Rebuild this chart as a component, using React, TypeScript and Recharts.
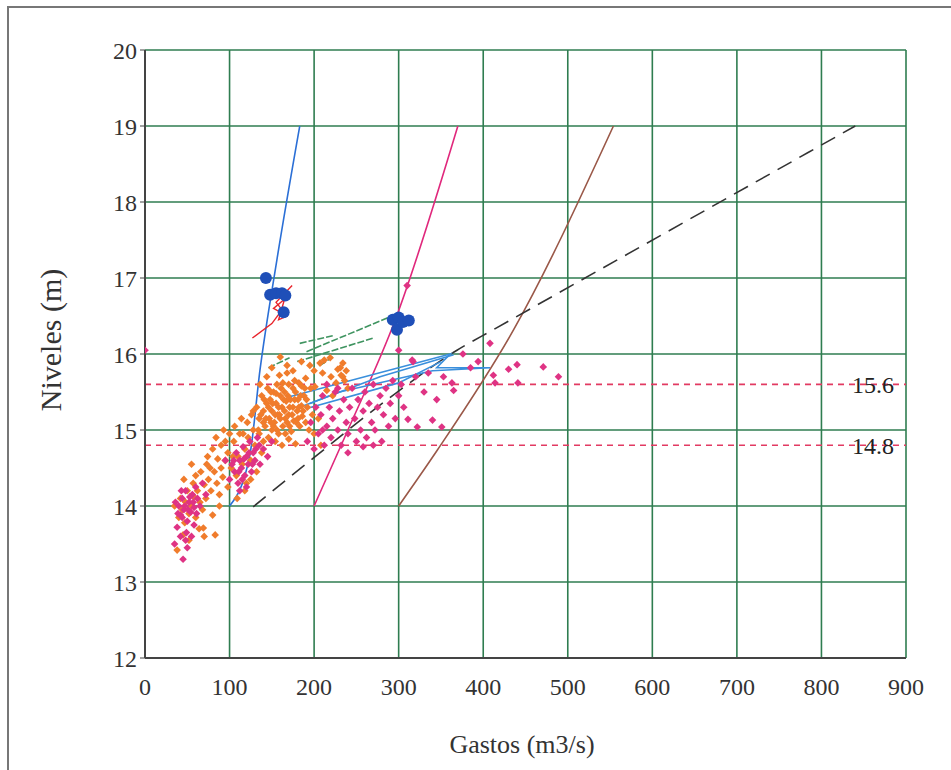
import React from 'react';
import {
  ComposedChart,
  Scatter,
  Line,
  XAxis,
  YAxis,
  CartesianGrid,
  ReferenceLine,
} from 'recharts';

const xTicks = [0, 100, 200, 300, 400, 500, 600, 700, 800, 900];
const yTicks = [12, 13, 14, 15, 16, 17, 18, 19, 20];

// orange scatter (gastos, nivel)
const orangePts: [number, number][] = [
  [38, 13.42], [45, 13.62], [52, 13.55], [40, 13.85], [44, 13.95], [48, 14.05], [52, 13.9], [55, 14.0],
  [58, 14.12], [60, 13.85], [62, 14.2], [65, 14.05], [68, 13.95], [70, 14.28], [72, 14.1], [75, 14.35],
  [78, 14.2], [80, 13.88], [82, 14.45], [85, 14.3], [88, 14.15], [90, 14.5], [92, 14.38], [95, 14.6],
  [50, 14.2], [42, 14.1], [57, 14.3], [66, 14.45], [73, 14.55], [86, 14.62], [64, 13.7], [70, 13.6],
  [35, 14.0], [47, 13.78], [83, 13.62], [69, 13.71],
  [60, 14.4], [77, 14.5], [88, 14.0], [98, 14.25], [104, 14.65], [116, 14.95], [121, 15.1], [84, 14.9],
  [93, 15.0], [74, 14.65], [55, 14.55], [46, 14.35],
  [98, 14.7], [102, 14.5], [105, 14.85], [108, 14.4], [110, 14.65], [112, 14.95], [115, 14.55], [118, 14.75],
  [120, 14.3], [122, 14.9], [125, 14.6], [128, 15.0], [130, 14.8], [132, 14.45], [135, 14.95], [138, 14.7],
  [140, 15.1], [100, 14.95], [106, 15.05], [95, 14.85], [114, 15.15], [126, 15.2], [118, 14.2], [109, 14.1],
  [125, 14.35], [80, 14.75], [90, 14.8],
  [132, 15.3], [135, 15.15], [138, 15.45], [140, 15.25], [142, 15.05], [144, 15.35], [145, 15.55], [147, 15.15],
  [148, 15.4], [150, 15.0], [150, 15.25], [152, 15.5], [153, 15.1], [155, 15.35], [156, 15.6], [157, 15.2],
  [158, 14.95], [160, 15.45], [160, 15.15], [162, 15.3], [163, 15.05], [165, 15.5], [165, 15.25], [167, 15.38],
  [168, 15.1], [170, 15.6], [170, 15.2], [172, 15.4], [173, 14.98], [175, 15.3], [176, 15.12], [178, 15.5],
  [180, 15.25], [181, 15.4], [183, 15.05], [185, 15.32], [186, 15.18], [188, 15.45], [190, 15.1], [192, 15.3],
  [194, 15.0], [146, 14.9], [154, 14.85], [162, 14.8], [170, 14.88], [178, 14.82], [136, 15.6], [144, 15.7],
  [159, 15.72], [168, 15.75], [182, 15.62], [196, 15.55], [198, 15.2], [200, 14.95], [205, 15.15], [208, 14.8],
  [140, 14.85], [128, 15.25], [152, 15.05], [166, 14.95], [175, 15.55], [185, 15.58],
  [134, 15.0], [137, 15.2], [141, 15.4], [143, 15.15], [146, 15.3], [149, 15.5], [151, 15.35], [154, 15.2],
  [156, 15.0], [158, 15.3], [161, 15.55], [164, 15.4], [166, 15.15], [169, 15.45], [171, 15.3], [174, 15.2],
  [177, 15.4], [179, 15.1], [182, 15.3], [184, 15.45], [187, 15.25], [189, 15.55], [191, 15.4], [149, 15.1],
  [159, 15.2], [171, 15.05], [181, 15.15], [163, 15.62], [155, 15.48], [177, 15.65],
  [150, 15.82], [160, 15.96], [168, 15.85], [175, 15.78], [190, 15.68], [195, 15.85], [201, 15.57], [207, 15.88],
  [210, 15.75], [215, 15.52], [219, 15.95], [220, 15.7], [226, 15.62], [228, 15.8], [231, 15.82], [232, 15.72],
  [234, 15.88], [234, 15.7], [236, 15.65], [238, 15.78], [212, 15.92], [200, 15.78], [185, 15.9], [222, 15.45],
  [240, 15.55],
];

// magenta scatter (gastos, nivel)
const magentaPts: [number, number][] = [
  [35, 13.5], [38, 13.72], [40, 14.0], [42, 13.88], [44, 14.1], [46, 13.95], [48, 14.2], [50, 13.8],
  [52, 14.05], [54, 13.92], [56, 14.15], [58, 13.98], [60, 14.25], [62, 14.1], [45, 13.3], [50, 13.45],
  [55, 13.6], [42, 13.6], [65, 14.0], [68, 14.3], [72, 14.15], [48, 13.55], [58, 13.75], [36, 14.05],
  [44, 13.85], [47, 14.0], [51, 13.95], [53, 14.12], [57, 14.05], [39, 13.9], [43, 14.2], [61, 13.9], [49, 13.65],
  [100, 14.35], [103, 14.55], [106, 14.45], [108, 14.7], [110, 14.3], [112, 14.6], [114, 14.5], [116, 14.78],
  [118, 14.4], [120, 14.65], [122, 14.55], [124, 14.85], [126, 14.45], [128, 14.7], [130, 14.6], [133, 14.9],
  [136, 14.55], [140, 14.75], [145, 14.65], [112, 14.2], [120, 14.25], [95, 14.6], [150, 14.85],
  [105, 14.6], [111, 14.45], [117, 14.62], [123, 14.7], [127, 14.55], [131, 14.75], [115, 14.35], [135, 14.8],
  [192, 14.85], [196, 15.1], [200, 14.75], [202, 15.3], [205, 14.95], [208, 15.2], [210, 15.45], [212, 14.8],
  [215, 15.05], [218, 15.3], [220, 14.9], [222, 15.15], [225, 15.5], [228, 15.0], [230, 15.25], [232, 14.8],
  [235, 15.4], [238, 15.1], [240, 14.95], [242, 15.3], [245, 15.55], [248, 15.15], [250, 14.85], [252, 15.4],
  [255, 15.0], [258, 15.25], [260, 15.5], [262, 14.9], [265, 15.35], [268, 15.1], [270, 15.6], [272, 15.0],
  [275, 15.3], [278, 15.45], [280, 14.85], [282, 15.2], [285, 15.55], [288, 15.05], [290, 15.35], [293, 15.65],
  [296, 15.15], [300, 15.45], [303, 15.6], [306, 15.3], [228, 15.55], [215, 15.6], [258, 14.78], [240, 14.7],
  [270, 14.8], [210, 15.0],
  [311, 15.14], [317, 15.9], [322, 15.04], [340, 15.13], [351, 15.04], [353, 15.7], [363, 15.62], [376, 16.0],
  [385, 15.82], [394, 15.9], [408, 16.14], [412, 15.72], [414, 15.62], [440, 15.86], [441, 15.62], [471, 15.83],
  [489, 15.7], [330, 15.5], [320, 15.7], [345, 15.4], [335, 15.75], [300, 16.05], [316, 15.92], [0, 16.05],
  [430, 15.8], [365, 15.52], [310, 16.9],
];

// large blue dots
const bluePts: [number, number][] = [
  [143, 17.0], [148, 16.78], [155, 16.8], [162, 16.8], [166, 16.77], [164, 16.55],
  [293, 16.45], [300, 16.48], [298, 16.32], [305, 16.42], [312, 16.44],
];

const blueCurve: [number, number][] = [[100, 14], [124, 14.67], [136, 15.79], [156, 17.24], [183, 19]];
const pinkCurve: [number, number][] = [[200, 14], [240, 15.0], [296, 16.45], [370, 19]];
const brownCurve: [number, number][] = [[300, 14], [346, 14.74], [436, 16.32], [554, 19]];
const dashedCurve: [number, number][] = [
  [128, 13.99], [199, 14.63], [290, 15.43], [369, 16.05], [412, 16.32], [840, 19],
];

// hysteresis traces
const redLoop: [number, number][] = [
  [127, 16.21], [150, 16.4], [160, 16.55], [152, 16.6], [165, 16.72], [158, 16.45], [168, 16.5], [155, 16.68], [174, 16.9],
];
const greenTraces: [number, number][][] = [
  [[183, 16.14], [222, 16.24]],
  [[191, 16.03], [290, 16.49]],
  [[146, 15.82], [171, 15.95]],
  [[180, 15.9], [270, 16.21]],
  [[207, 15.85], [222, 15.96]],
];
const blueTraces: [number, number][][] = [
  [[172, 15.44], [361, 16.0], [345, 15.82], [408, 15.82], [340, 15.78], [230, 15.5], [195, 15.35]],
  [[183, 15.3], [278, 15.7], [365, 15.99]],
  [[190, 15.28], [300, 15.62], [350, 15.9]],
];

const toPts = (arr: [number, number][]) => arr.map(([x, y]) => ({ x, y }));

const Diamond = (props: any) => {
  const { cx, cy, fill } = props;
  if (cx == null || cy == null) return null;
  const r = 3.8;
  return <path d={`M${cx},${cy - r}L${cx + r},${cy}L${cx},${cy + r}L${cx - r},${cy}Z`} fill={fill} />;
};

const Dot = (props: any) => {
  const { cx, cy } = props;
  if (cx == null || cy == null) return null;
  return <circle cx={cx} cy={cy} r={6} fill="#1f4fb8" />;
};

const font = '"Liberation Serif", "Times New Roman", serif';
const tickStyle = { fill: '#333', fontSize: 24, fontFamily: font };

const App: React.FC = () => {
  return (
    <div style={{ position: 'absolute', left: 0, top: 0, width: 951, height: 770, background: '#fff', overflow: 'hidden' }}>
      <div style={{ position: 'absolute', left: 7, top: 6, width: 960, height: 780, borderLeft: '2px solid #777', borderTop: '2px solid #777' }} />
      <ComposedChart width={951} height={770} margin={{ top: 50, right: 45, bottom: 82, left: 85 }}>
        <CartesianGrid stroke="#2f7d50" strokeWidth={1.6} horizontalValues={yTicks} verticalValues={xTicks} />
        <XAxis
          type="number"
          dataKey="x"
          domain={[0, 900]}
          ticks={xTicks}
          tick={tickStyle}
          tickLine={false}
          tickMargin={14}
          axisLine={{ stroke: '#444', strokeWidth: 2 }}
          height={30}
          allowDataOverflow
        />
        <YAxis
          type="number"
          dataKey="y"
          domain={[12, 20]}
          ticks={yTicks}
          tick={tickStyle}
          tickSize={5}
          tickMargin={3}
          tickLine={{ stroke: '#444' }}
          axisLine={{ stroke: '#444', strokeWidth: 2 }}
          width={60}
          allowDataOverflow
        />
        <XAxis xAxisId="top" orientation="top" type="number" domain={[0, 900]} tick={false} tickLine={false} height={0} axisLine={{ stroke: '#444', strokeWidth: 2 }} />
        <YAxis yAxisId="right" orientation="right" type="number" domain={[12, 20]} tick={false} tickLine={false} width={0} axisLine={{ stroke: '#444', strokeWidth: 2 }} />
        <ReferenceLine y={15.6} stroke="#e23a62" strokeWidth={1.6} strokeDasharray="6 5"
          label={{ value: '15.6', position: 'insideRight', offset: 12, fill: '#222', fontSize: 24, fontFamily: font }} />
        <ReferenceLine y={14.8} stroke="#e23a62" strokeWidth={1.6} strokeDasharray="6 5"
          label={{ value: '14.8', position: 'insideRight', offset: 12, fill: '#222', fontSize: 24, fontFamily: font }} />
        <Scatter data={toPts(orangePts)} fill="#f07c2c" shape={<Diamond />} isAnimationActive={false} />
        <Scatter data={toPts(magentaPts)} fill="#df3384" shape={<Diamond />} isAnimationActive={false} />
        <Line data={toPts(blueCurve)} dataKey="y" type="monotone" stroke="#2b6fd6" strokeWidth={1.6} dot={false} isAnimationActive={false} />
        <Line data={toPts(pinkCurve)} dataKey="y" type="monotone" stroke="#e0287c" strokeWidth={1.6} dot={false} isAnimationActive={false} />
        <Line data={toPts(brownCurve)} dataKey="y" type="monotone" stroke="#9a5848" strokeWidth={1.6} dot={false} isAnimationActive={false} />
        <Line data={toPts(dashedCurve)} dataKey="y" type="monotone" stroke="#333" strokeWidth={1.6} strokeDasharray="16 9" dot={false} isAnimationActive={false} />
        <Line data={toPts(redLoop)} dataKey="y" stroke="#e8242c" strokeWidth={1.4} dot={false} isAnimationActive={false} />
        {greenTraces.map((t, i) => (
          <Line key={'g' + i} data={toPts(t)} dataKey="y" stroke="#3f9460" strokeWidth={1.6} strokeDasharray="7 2" dot={false} isAnimationActive={false} />
        ))}
        {blueTraces.map((t, i) => (
          <Line key={'b' + i} data={toPts(t)} dataKey="y" stroke="#3a8fdc" strokeWidth={1.6} dot={false} isAnimationActive={false} />
        ))}
        <Scatter data={toPts(bluePts)} shape={<Dot />} isAnimationActive={false} />
      </ComposedChart>
      <div style={{ position: 'absolute', left: 0, top: 730, width: 1044, textAlign: 'center', fontFamily: font, fontSize: 26, color: '#333' }}>
        Gastos (m3/s)
      </div>
      <div style={{ position: 'absolute', left: 51, top: 340, transform: 'translate(-50%, -50%) rotate(-90deg)', whiteSpace: 'nowrap', fontFamily: font, fontSize: 30, color: '#333' }}>
        Niveles (m)
      </div>
    </div>
  );
};

export default App;
